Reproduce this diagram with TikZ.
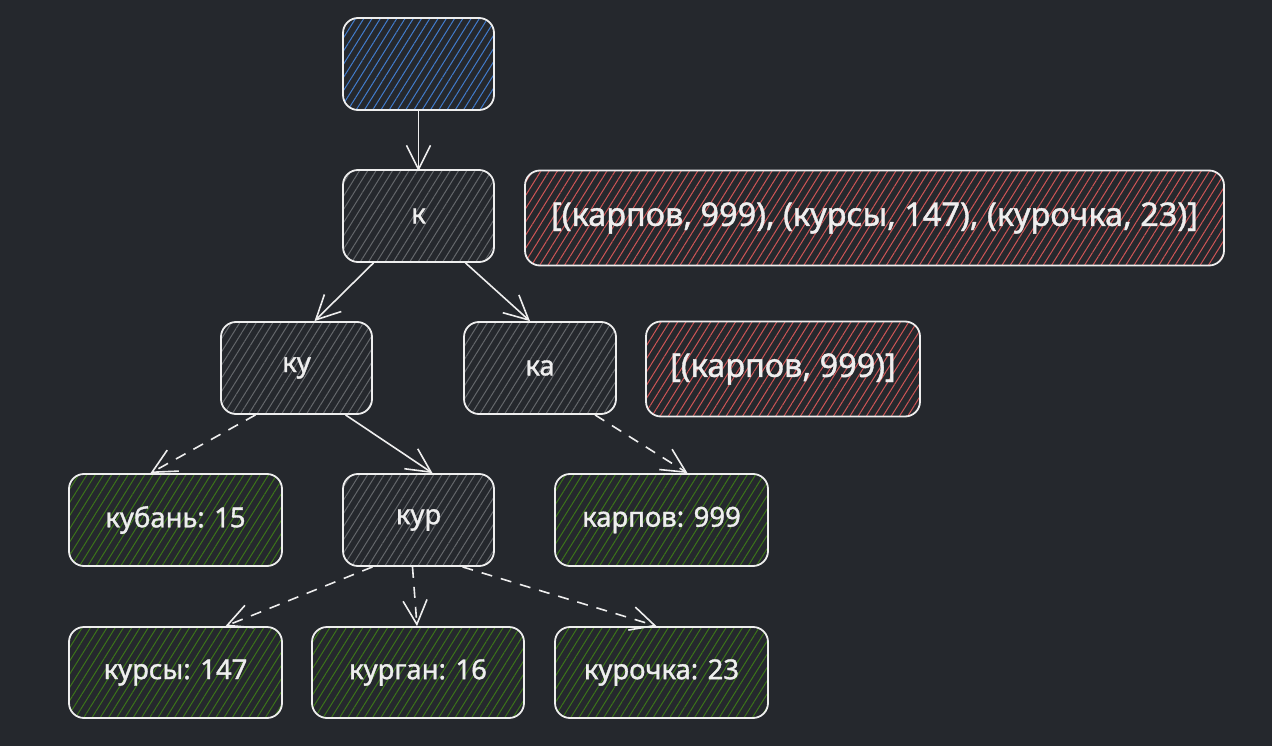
\documentclass[tikz,border=0pt]{standalone}
\usepackage{fontspec}
\setmainfont{Noto Sans}
\newfontfamily\hand{Noto Sans}[FakeBold=1.2]
\usetikzlibrary{patterns.meta,arrows.meta}
\definecolor{bg}{RGB}{37,40,45}
\definecolor{hblue}{RGB}{66,124,204}
\definecolor{hred}{RGB}{206,86,86}
\definecolor{hgreen}{RGB}{60,116,26}
\definecolor{hgray}{RGB}{100,103,107}
\definecolor{ink}{RGB}{238,238,238}
\tikzset{
  box/.style={draw=ink, line width=1.8pt, rounded corners=15pt, inner sep=0pt,
    text=ink, font=\hand\fontsize{27.5}{32}\selectfont},
  hatch/.style={pattern={Lines[angle=58,distance=7pt,line width=1pt]}, pattern color=#1},
  inner/.style={box, hatch=hgray, minimum width=151pt, minimum height=92pt},
  leaf/.style={box, hatch=hgreen, minimum width=213pt, minimum height=92pt},
  res/.style={box, hatch=hred, minimum height=95pt, font=\hand\fontsize{32.5}{36}\selectfont},
  arr/.style={draw=ink, line width=1.6pt, -{Straight Barb[length=24pt,width=24pt,line width=1.6pt]}},
  darr/.style={arr, dash pattern=on 11pt off 9pt},
}
\begin{document}
\begin{tikzpicture}[x=1pt,y=-1pt]
\fill[bg] (0,0) rectangle (1272,746);
\useasboundingbox (0,0) rectangle (1272,746);

\node[box, hatch=hblue, minimum width=151pt, minimum height=92pt] (root) at (418.5,64) {};
\node[inner] (k) at (418.5,216) {к};
\node[res, minimum width=699pt] (r1) at (874.5,218) {[(карпов, 999), (курсы, 147), (курочка, 23)]};
\node[inner] (ku) at (296.5,368) {ку};
\node[inner, minimum width=152pt] (ka) at (540,368) {ка};
\node[res, minimum width=274pt] (r2) at (783,369) {[(карпов, 999)]};
\node[leaf] (kuban) at (175.5,520) {кубань: 15};
\node[inner] (kur) at (418.5,520) {кур};
\node[leaf] (karpov) at (661.5,520) {карпов: 999};
\node[leaf, minimum height=91pt] (kursy) at (175.5,672.5) {курсы: 147};
\node[leaf, minimum width=212pt, minimum height=91pt] (kurgan) at (418,672.5) {курган: 16};
\node[leaf, minimum height=91pt] (kurochka) at (661.5,672.5) {курочка: 23};

\draw[arr] (root.south) -- ([yshift=-2pt]k.north);
\draw[arr] ([xshift=-45pt]k.south) -- ([xshift=18pt]ku.north);
\draw[arr] ([xshift=47pt]k.south) -- ([xshift=-10pt]ka.north);
\draw[darr] ([xshift=-41pt]ku.south) -- ([xshift=-25pt]kuban.north);
\draw[arr] ([xshift=49pt]ku.south) -- ([xshift=14pt]kur.north);
\draw[darr] ([xshift=55pt]ka.south) -- ([xshift=26pt]karpov.north);
\draw[darr] ([xshift=-46pt]kur.south) -- ([xshift=50pt]kursy.north);
\draw[darr] ([xshift=-6pt]kur.south) -- ([xshift=-1pt]kurgan.north);
\draw[darr] ([xshift=44pt]kur.south) -- ([xshift=-5pt]kurochka.north);
\end{tikzpicture}
\end{document}
